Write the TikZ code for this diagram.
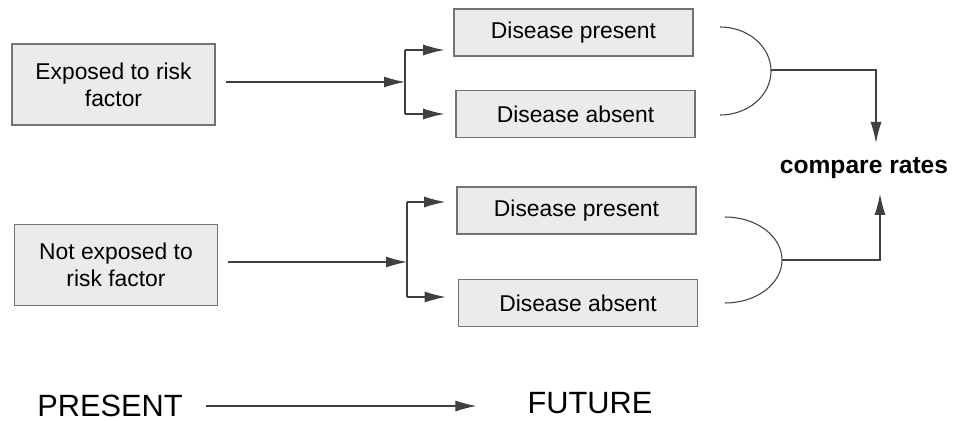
\documentclass[tikz,border=0pt]{standalone}
\usepackage{fontspec}
\setmainfont{Liberation Sans}
\usetikzlibrary{arrows.meta,positioning}

\begin{document}
\begin{tikzpicture}[
  x=0.2mm, y=-0.2mm,
  font=\fontsize{13}{15.5}\selectfont,
  box/.style={draw=black!55, line width=0.9pt, fill=black!8, align=center, minimum width=40.6mm, minimum height=16.2mm},
  dbox/.style={draw=black!55, line width=0.9pt, fill=black!8, align=center, minimum width=47.8mm, minimum height=9.4mm},
  arrow/.style={-{Latex[length=4.2mm,width=2.2mm]}, draw=black!75, line width=0.6pt},
  link/.style={draw=black!75, line width=0.6pt},
  big/.style={font=\fontsize{17.5}{20}\selectfont}
]
\useasboundingbox (0,0) rectangle (953,421);

\node[box] (exp) at (113.5,84.5) {Exposed to risk\\factor};
\node[box] (nexp) at (116,265) {Not exposed to\\risk factor};

\node[dbox] (p1) at (573.5,32.5) {Disease present};
\node[dbox] (a1) at (575.5,114) {Disease absent};
\node[dbox] (p2) at (576.5,210.5) {Disease present};
\node[dbox] (a2) at (578,303) {Disease absent};

\node[font=\bfseries\fontsize{14}{16}\selectfont] (cmp) at (864,168) {compare rates};

% branch points
\coordinate (b1) at (405,82);
\coordinate (b1t) at (405,50);
\coordinate (b1b) at (405,114);
\coordinate (b2) at (407,262);
\coordinate (b2t) at (407,202);
\coordinate (b2b) at (407,297);

\draw[arrow, shorten <=2mm] (exp.east |- b1) -- (b1);
\draw[link] (b1t) -- (b1b);
\draw[arrow, shorten >=1.8mm] (b1t) -- (b1t -| p1.west);
\draw[arrow, shorten >=2.2mm] (b1b) -- (b1b -| a1.west);

\draw[arrow, shorten <=2mm] (nexp.east |- b2) -- (b2);
\draw[link] (b2t) -- (b2b);
\draw[arrow, shorten >=2.2mm] (b2t) -- (b2t -| p2.west);
\draw[arrow, shorten >=2.4mm] (b2b) -- (b2b -| a2.west);

% brackets and comparison
\coordinate (k1) at (720,27);
\coordinate (k2) at (725,217);
\coordinate (c1) at (876,143);
\coordinate (c2) at (880,194);

\draw[link] (k1) arc[start angle=90, end angle=-90, x radius=10.2mm, y radius=8.8mm];
\draw[link] (k2) arc[start angle=90, end angle=-90, x radius=11.4mm, y radius=8.6mm];
\draw[arrow] (771,70) -| (c1);
\draw[arrow] (782,260) -| (c2);

\node[big] (pres) at (110,406) {PRESENT};
\node[big] (fut) at (590,403) {FUTURE};
\draw[arrow, shorten <=3.4mm, shorten >=9mm] (pres.east) -- (fut.west |- pres.east);

\end{tikzpicture}
\end{document}
